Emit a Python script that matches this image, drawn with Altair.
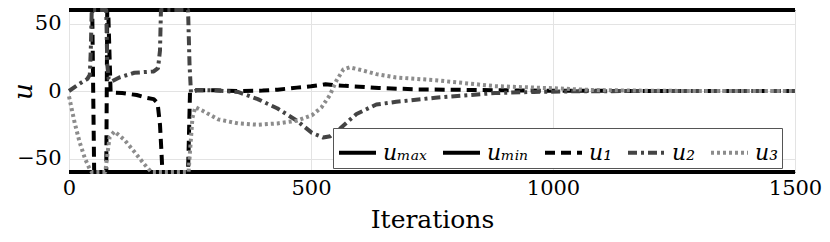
import altair as alt
import pandas as pd

# ---- data ----
names = ["uₘₐₓ", "uₘᵢₙ", "u₁", "u₂", "u₃"]

it_umax = [0, 1500]
v_umax = [60, 60]

it_umin = [0, 1500]
v_umin = [-60, -60]

it_u1 = [0, 48, 52, 77, 79, 81, 86, 110, 140, 160, 175, 183, 188, 191, 193, 246, 250, 260, 300, 350,
         400, 431, 471, 500, 530, 545, 570, 600, 640, 720, 800, 900, 1000, 1100, 1200, 1500]
v_u1 = [60, 60, -60, -60, 60, 60, -1, -1.5, -3, -5, -6, -9, -25, -45, -60, -60, -1, 0.5, 0.5, 0,
        0.3, 1, 2.5, 3.5, 5, 4.5, 3.8, 3.2, 2.2, 1.2, 0.9, 0.5, 0.2, 0.1, 0, 0]

it_u2 = [0, 20, 38, 43, 45, 47, 77, 79, 82, 88, 104, 135, 175, 184, 188, 190, 246, 249, 252, 265, 300,
         349, 390, 431, 471, 502, 525, 540, 553, 575, 594, 635, 676, 757, 880, 960, 1050, 1200, 1500]
v_u2 = [0, 5, 9, 12, 30, 60, 60, 20, 9, 7, 10, 13.5, 14.5, 17, 30, 60, 60, 20, -1, 0.7, 0.5,
        -0.7, -6, -13, -22, -31, -34.5, -33.5, -30, -23, -17, -10, -8, -5, -1.5, -0.7, -0.2, 0, 0]

it_u3 = [0, 12, 22, 33, 43, 47, 75, 80, 84, 94, 114, 135, 155, 170, 247, 251, 255, 261, 278, 308,
         349, 390, 431, 471, 502, 522, 539, 553, 567, 580, 604, 635, 676, 757, 880, 1002, 1084, 1200, 1300, 1500]
v_u3 = [-4, -24, -38, -50, -58, -60, -60, -45, -34, -30, -36, -45, -54, -60, -60, -40, -20, -12, -15, -21,
        -24, -25, -24, -22, -18, -12, -3, 8, 16, 17.5, 15.5, 12.5, 10, 8, 3.6, 2, 0.7, 0.2, 0, 0]

x_ticks = [0, 500, 1000, 1500]
y_ticks = [-50, 0, 50]

# ---- styles ----
colors = ["#000000", "#000000", "#000000", "#444444", "#8c8c8c"]
dashes = [[1, 0], [1, 0], [10, 6], [9, 4, 3, 4], [3, 3]]
widths = [4, 4, 3.5, 3.5, 3]

series = [(names[0], it_umax, v_umax), (names[1], it_umin, v_umin), (names[2], it_u1, v_u1),
          (names[3], it_u2, v_u2), (names[4], it_u3, v_u3)]
rows = []
k = 0
for name, its, vals in series:
    for x, v in zip(its, vals):
        rows.append({"series": name, "it": x, "u": v, "idx": k})
        k += 1
df = pd.DataFrame(rows)

FONT = "DejaVu Serif"

leg = alt.Legend(
    title=None, orient="none", legendX=264, legendY=118, direction="horizontal",
    symbolType="stroke", symbolSize=1369, symbolStrokeWidth=3,
    labelFont=FONT, labelFontSize=22, labelFontStyle="italic", labelColor="black",
    fillColor="white", strokeColor="#555555", padding=4, columnPadding=8, labelOffset=5,
)

chart = alt.Chart(df).mark_line(strokeCap="butt", strokeJoin="round").encode(
    x=alt.X("it:Q", scale=alt.Scale(domain=[0, 1500], nice=False, zero=False),
            axis=alt.Axis(values=x_ticks, format="d", title="Iterations", titleFont=FONT, titleFontSize=25,
                          titleFontWeight="normal", titleColor="black", titleBaseline="alphabetic",
                          titleY=55, labelFont=FONT, labelFontSize=21, labelColor="black",
                          labelFlush=False, labelPadding=5, ticks=False, domain=False,
                          grid=True, gridColor="#e3e3e3")),
    y=alt.Y("u:Q", scale=alt.Scale(domain=[-60, 60], nice=False, zero=False),
            axis=alt.Axis(values=y_ticks, format="d", title="u", titleFont=FONT, titleFontSize=26,
                          titleFontStyle="italic", titleFontWeight="normal", titleColor="black",
                          titleAngle=270, titleBaseline="middle", titleX=-46, titleY=81,
                          labelFont=FONT, labelFontSize=21, labelColor="black", labelPadding=8,
                          ticks=False, domain=False, grid=True, gridColor="#e3e3e3")),
    color=alt.Color("series:N", scale=alt.Scale(domain=names, range=colors), legend=leg,
                    sort=names),
    strokeDash=alt.StrokeDash("series:N", scale=alt.Scale(domain=names, range=dashes),
                              legend=leg, sort=names),
    strokeWidth=alt.StrokeWidth("series:N", scale=alt.Scale(domain=names, range=widths),
                                legend=None),
    order=alt.Order("idx:Q"),
).properties(
    width=726, height=162,
    autosize=alt.AutoSizeParams(type="none"),
    padding={"left": 61, "top": 2, "right": 27, "bottom": 62},
).configure(font=FONT).configure_view(stroke="#000000", strokeWidth=1)

chart.save("out.html", embed_options={"renderer": "svg", "actions": False})
